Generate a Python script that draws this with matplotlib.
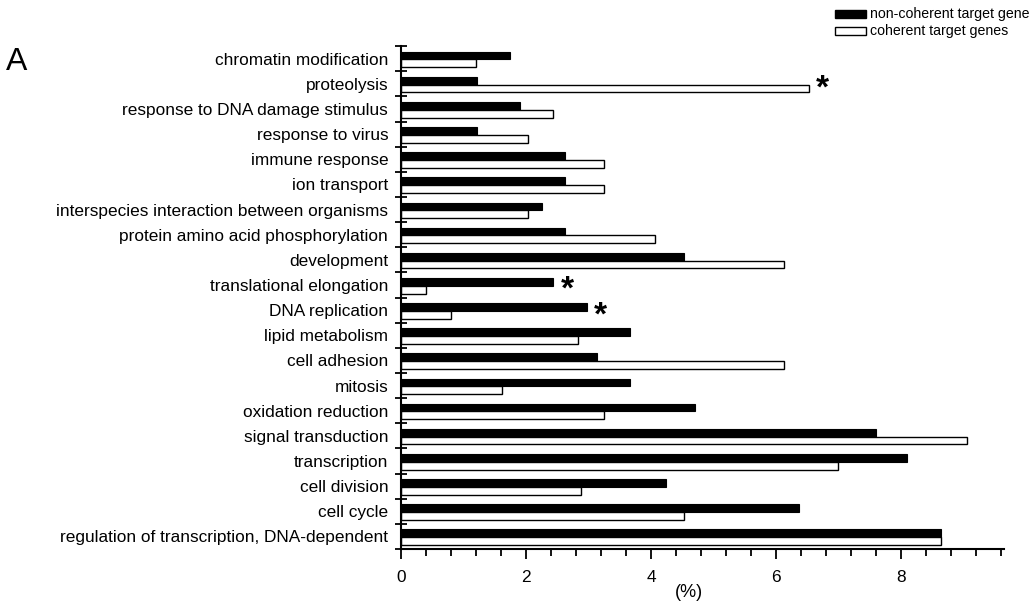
import matplotlib.pyplot as plt
from matplotlib.ticker import MultipleLocator
from matplotlib.patches import Rectangle
import numpy as np

plt.rcParams['font.family'] = ['Liberation Sans', 'DejaVu Sans']

# GO terms, listed top to bottom
terms = [
    "chromatin modification",
    "proteolysis",
    "response to DNA damage stimulus",
    "response to virus",
    "immune response",
    "ion transport",
    "interspecies interaction between organisms",
    "protein amino acid phosphorylation",
    "development",
    "translational elongation",
    "DNA replication",
    "lipid metabolism",
    "cell adhesion",
    "mitosis",
    "oxidation reduction",
    "signal transduction",
    "transcription",
    "cell division",
    "cell cycle",
    "regulation of transcription, DNA-dependent",
]
noncoherent = [1.74, 1.22, 1.91, 1.22, 2.62, 2.62, 2.26, 2.62, 4.53, 2.44,
               2.97, 3.66, 3.13, 3.66, 4.71, 7.59, 8.10, 4.24, 6.36, 8.63]
coherent = [1.21, 6.52, 2.43, 2.03, 3.25, 3.25, 2.03, 4.06, 6.12, 0.40,
            0.80, 2.84, 6.12, 1.62, 3.25, 9.05, 6.99, 2.88, 4.52, 8.63]
significant = ["proteolysis", "translational elongation", "DNA replication"]

n = len(terms)
y = np.arange(n)[::-1]
h = 0.31

fig = plt.figure(figsize=(10.32, 6.03), dpi=100)
ax = fig.add_axes([0.3883, 0.0895, 0.585, 0.834])

ax.barh(y + h / 2 - 0.03, noncoherent, height=h, color="black",
        edgecolor="black", linewidth=0.8, label="non-coherent target gene")
ax.barh(y - h / 2 - 0.03, coherent, height=h, color="white",
        edgecolor="black", linewidth=1.0, label="coherent target genes")

for term, nc, c, yy in zip(terms, noncoherent, coherent, y):
    if term in significant:
        ax.text(max(nc, c) + 0.12, yy - 0.22, "*", fontsize=24,
                fontweight="bold", ha="left", va="center")

ax.set_xlim(0, 9.65)
ax.set_ylim(-0.5, n - 0.5)

ax.set_yticks(y)
ax.set_yticklabels(terms, fontsize=12.4)
ax.set_yticks(np.arange(n + 1) - 0.5, minor=True)
ax.tick_params(axis="y", which="major", length=0, pad=9)
ax.tick_params(axis="y", which="minor", direction="inout", length=9, width=1.3)

ax.xaxis.set_major_locator(MultipleLocator(2))
ax.xaxis.set_minor_locator(MultipleLocator(0.4))
ax.tick_params(axis="x", which="major", direction="out", length=7, width=1.3,
               labelsize=12.4, pad=8)
ax.tick_params(axis="x", which="minor", direction="out", length=5, width=1.3)
ax.set_xlabel("(%)", fontsize=13)
ax.xaxis.set_label_coords(0.478, -0.07)

for side in ("top", "right"):
    ax.spines[side].set_visible(False)
for side in ("left", "bottom"):
    ax.spines[side].set_linewidth(1.5)

fig.text(0.006, 0.897, "A", fontsize=23, ha="left", va="center")

# legend boxes in the upper right corner
fig.patches.append(Rectangle((0.809, 0.970), 0.030, 0.0135, transform=fig.transFigure,
                             facecolor="black", edgecolor="black", linewidth=1))
fig.patches.append(Rectangle((0.809, 0.942), 0.030, 0.0135, transform=fig.transFigure,
                             facecolor="white", edgecolor="black", linewidth=1))
fig.text(0.843, 0.977, "non-coherent target gene", fontsize=10.2, va="center")
fig.text(0.843, 0.949, "coherent target genes", fontsize=10.2, va="center")

fig.savefig("out.png", dpi=100)
